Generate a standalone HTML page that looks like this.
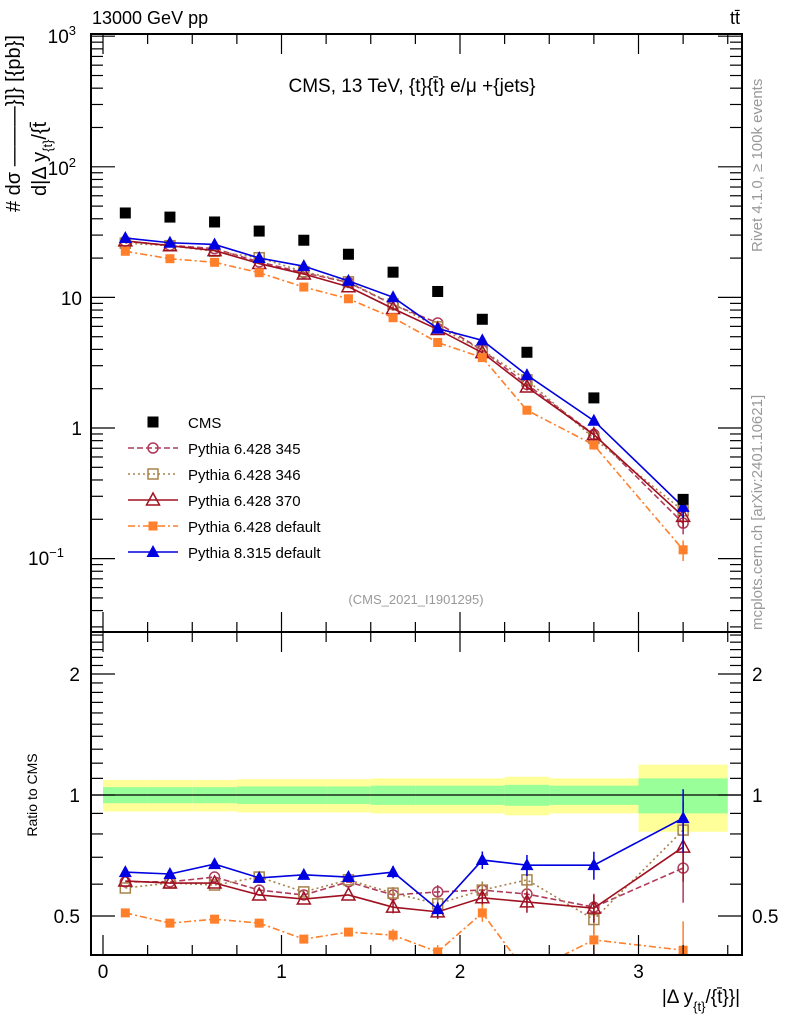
<!DOCTYPE html>
<html><head><meta charset="utf-8"><style>
body{margin:0;background:#fff;width:786px;height:1024px;overflow:hidden}
svg text{font-family:"Liberation Sans",sans-serif}
</style></head><body>
<svg id="c" width="786" height="1024" xmlns="http://www.w3.org/2000/svg"></svg>
<script>
const binLo=[0,0.25,0.5,0.75,1,1.25,1.5,1.75,2,2.25,2.5,3];
const binHi=[0.25,0.5,0.75,1,1.25,1.5,1.75,2,2.25,2.5,3,3.5];
const cmsVals=[44.3,41.2,37.8,32.2,27.4,21.4,15.6,11.1,6.8,3.8,1.7,0.284];
const bandTot=[0.09,0.09,0.09,0.095,0.095,0.095,0.1,0.1,0.1,0.11,0.1,0.19];
const bandStat=[0.046,0.046,0.046,0.05,0.05,0.05,0.055,0.055,0.055,0.06,0.055,0.1];
const r345=[0.608,0.608,0.625,0.580,0.564,0.608,0.564,0.574,0.580,0.567,0.526,0.658];
const r346=[0.587,0.604,0.597,0.625,0.574,0.615,0.570,0.536,0.580,0.615,0.490,0.818];
const r370=[0.611,0.604,0.604,0.564,0.551,0.564,0.526,0.512,0.555,0.542,0.523,0.742];
const rDef=[0.509,0.480,0.491,0.480,0.438,0.456,0.448,0.407,0.509,0.360,0.436,0.411];
const rP8=[0.643,0.636,0.673,0.622,0.633,0.625,0.643,0.520,0.689,0.669,0.669,0.876];
const relErr=[0.02,0.02,0.02,0.025,0.025,0.03,0.035,0.04,0.05,0.06,0.08,0.18];
const xTicks=[0,1,2,3];
const ratioTicks=[0.5,1,2];

const NS="http://www.w3.org/2000/svg";
const svg=document.getElementById('c');
const L=91,R=742,T=34,MB=632,RB=955;
const X=v=>103+v*178.5;
const Y=v=>428-Math.log10(v)*130.6;
const YR=v=>795-Math.log2(v)*121;
function el(tag,a,p){const e=document.createElementNS(NS,tag);for(const k in a)e.setAttribute(k,a[k]);(p||svg).appendChild(e);return e;}
function txt(s,a,p){const e=el('text',a,p);e.textContent=s;return e;}
const clipM=el('clipPath',{id:'cm'});el('rect',{x:L,y:T,width:R-L,height:MB-T},clipM);
const clipR=el('clipPath',{id:'cr'});el('rect',{x:L,y:MB,width:R-L,height:RB-MB},clipR);
const gM=el('g',{'clip-path':'url(#cm)'});
const gR=el('g',{'clip-path':'url(#cr)'});

binLo.forEach((lo,i)=>{
 const y=el('rect',{x:X(lo),y:YR(1+bandTot[i]),width:X(binHi[i])-X(lo),height:YR(1-bandTot[i])-YR(1+bandTot[i]),fill:'#ffff99'},gR);
 
 const g=el('rect',{x:X(lo),y:YR(1+bandStat[i]),width:X(binHi[i])-X(lo),height:YR(1-bandStat[i])-YR(1+bandStat[i]),fill:'#99ff99'},gR);
 
});
const one=el('line',{x1:L,x2:R,y1:YR(1),y2:YR(1),stroke:'#000','stroke-width':1.3},gR);


const cen=binLo.map((lo,i)=>(lo+binHi[i])/2);
const series=[
 {name:'pythia-6428-345',r:r345,col:'#b03a5a',dash:'6,3',mk:'circle'},
 {name:'pythia-6428-346',r:r346,col:'#a8824a',dash:'2,3',mk:'osquare'},
 {name:'pythia-6428-370',r:r370,col:'#a01020',dash:'',mk:'otri'},
 {name:'pythia-6428-default',r:rDef,col:'#ff7f2a',dash:'7,3,2,3',mk:'fsquare'},
 {name:'pythia-8315-default',r:rP8,col:'#0000e0',dash:'',mk:'ftri'}];
function marker(mk,x,y,col,p,s){
 s=s||1;let e;
 if(mk=='circle')e=el('circle',{cx:x,cy:y,r:5*s,fill:'none',stroke:col,'stroke-width':1.5},p);
 else if(mk=='osquare')e=el('rect',{x:x-5*s,y:y-5*s,width:10*s,height:10*s,fill:'none',stroke:col,'stroke-width':1.5},p);
 else if(mk=='fsquare')e=el('rect',{x:x-4.5*s,y:y-4.5*s,width:9*s,height:9*s,fill:col},p);
 else if(mk=='bsquare')e=el('rect',{x:x-5.5,y:y-5.5,width:11,height:11,fill:col},p);
 else if(mk=='otri')e=el('polygon',{points:`${x},${y-7*s} ${x-6.5*s},${y+5*s} ${x+6.5*s},${y+5*s}`,fill:'none',stroke:col,'stroke-width':1.5},p);
 else e=el('polygon',{points:`${x},${y-7*s} ${x-6.5*s},${y+5*s} ${x+6.5*s},${y+5*s}`,fill:col},p);
 return e;
}
series.forEach(s=>{
 const mv=s.r.map((r,i)=>r*cmsVals[i]);
 [[gM,mv,Y],[gR,s.r,YR]].forEach(([g,vals,fy])=>{
  const pl=el('polyline',{points:vals.map((v,i)=>X(cen[i])+','+fy(v)).join(' '),fill:'none',stroke:s.col,'stroke-width':1.6,'stroke-dasharray':s.dash},g);
  
  vals.forEach((v,i)=>{
   const e=relErr[i];
   if(e>0.03){const eb=el('line',{x1:X(cen[i]),x2:X(cen[i]),y1:fy(v*(1+e)),y2:fy(v*(1-e)),stroke:s.col,'stroke-width':1.5},g);
    }
   const m=marker(s.mk,X(cen[i]),fy(v),s.col,g);
   
  });
 });
});
cmsVals.forEach((v,i)=>{const m=marker('bsquare',X(cen[i]),Y(v),'#000',gM);
 });

[[T,MB],[MB,RB]].forEach(([t,b],k)=>{const f=el('rect',{x:L,y:t,width:R-L,height:b-t,fill:'none',stroke:'#000','stroke-width':2});
 });
function tk(x1,y1,x2,y2){el('line',{x1,y1,x2,y2,stroke:'#000','stroke-width':1.2});}
for(let v=0;v<=3.5;v+=0.25){const major=Math.abs(v-Math.round(v))<1e-6;const len=major?20:10;
 [T,MB].forEach(t=>tk(X(v),t,X(v),t+len));[MB,RB].forEach(b=>tk(X(v),b,X(v),b-len));}
xTicks.forEach(v=>{const t=txt(String(v),{x:X(v),y:978,'font-size':19,'text-anchor':'middle'});});
for(let d=-2;d<=3;d++)for(let k=1;k<10;k++){const v=k*Math.pow(10,d);const y=Y(v);if(y<T||y>MB)continue;const len=k==1?24:12;tk(L,y,L+len,y);tk(R,y,R-len,y);}
const ylab=[['10',3,36],['10',2,168],['10','',298],['1','',428],['10','\u22121',558]];
ylab.forEach(([b,e,y])=>{const t=el('text',{x:e===''?82:64,y:y+7,'font-size':19,'text-anchor':'end'});
 t.textContent=b;if(e!==''){const s=el('tspan',{dy:-8,'font-size':13},t);s.textContent=e;t.setAttribute('x',e==='\u22121'?64:76);t.setAttribute('text-anchor','end');}});
for(let v=0.4;v<=2.6;v+=0.1){const y=YR(v);if(y<MB||y>RB)continue;const maj=[0.5,1,2].some(m=>Math.abs(m-v)<1e-6);const len=maj?24:12;tk(L,y,L+len,y);tk(R,y,R-len,y);}
ratioTicks.forEach(v=>{const y=YR(v)+7;
 const a=txt(String(v),{x:80,y,'font-size':19,'text-anchor':'end'});
 const b=txt(String(v),{x:752,y,'font-size':19});});

let t;
t=txt('13000 GeV pp',{x:92,y:24,'font-size':18});
t=txt('tt\u0304',{x:740,y:24,'font-size':18,'text-anchor':'end'});
t=txt('CMS, 13 TeV, {t}{t\u0304} e/\u03bc +{jets}',{x:412,y:92,'font-size':19,'text-anchor':'middle'});
t=txt('(CMS_2021_I1901295)',{x:416,y:604,'font-size':13,fill:'#999','text-anchor':'middle'});
t=txt('# d\u03c3 \u2014\u2014\u2014}]} [{pb}]',{x:0,y:0,'font-size':20,transform:'translate(20,212) rotate(-90)'});
t=el('text',{x:0,y:0,'font-size':20,transform:'translate(46,196) rotate(-90)'});
t.textContent='d|\u0394 y';let q1=el('tspan',{dy:6,'font-size':13},t);q1.textContent='{t}';let q2=el('tspan',{dy:-6},t);q2.textContent='/{t\u0304';
t=txt('Ratio to CMS',{x:0,y:0,'font-size':14,'text-anchor':'middle',transform:'translate(37,795) rotate(-90)'});
t=txt('Rivet 4.1.0, \u2265 100k events',{x:0,y:0,'font-size':15,fill:'#999',transform:'translate(762,252) rotate(-90)'});
t=txt('mcplots.cern.ch [arXiv:2401.10621]',{x:0,y:0,'font-size':15,fill:'#999',transform:'translate(762,630) rotate(-90)'});
t=el('text',{x:740,y:1003,'font-size':19,'text-anchor':'end'});
t.textContent='|\u0394 y';let s1=el('tspan',{dy:8,'font-size':13},t);s1.textContent='{t}';let s2=el('tspan',{dy:-8},t);s2.textContent='/{t\u0304}}|';

const leg=[['CMS','bsquare','#000','']].concat(series.map((s,i)=>[['Pythia 6.428 345','Pythia 6.428 346','Pythia 6.428 370','Pythia 6.428 default','Pythia 8.315 default'][i],s.mk,s.col,s.dash]));
leg.forEach(([lab,mk,col,dash],i)=>{const y=422+i*26;const g=el('g',{});
 if(i>0)el('line',{x1:128,x2:178,y1:y,y2:y,stroke:col,'stroke-width':1.6,'stroke-dasharray':dash},g);
 marker(mk,153,y,col,g);
 txt(lab,{x:188,y:y+6,'font-size':15},g);});
</script>
</body></html>
